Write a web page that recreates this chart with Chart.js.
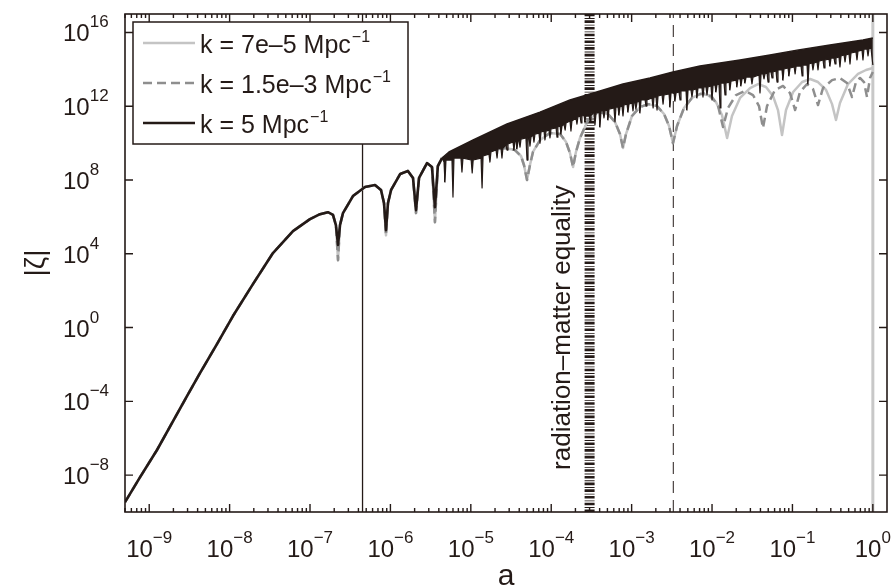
<!DOCTYPE html>
<html>
<head>
<meta charset="utf-8">
<title>|ζ| versus a</title>
<script src="https://cdn.jsdelivr.net/npm/chart.js@4.4.1/dist/chart.umd.min.js"></script>
<style>
  html, body { margin: 0; padding: 0; background: #fff; }
  canvas { display: block; }
</style>
</head>
<body>
<canvas id="zetaChart" width="896" height="588"></canvas>
<script>
// |zeta| against scale factor a, three comoving wavenumbers, log-log axes
const A_MIN = 5e-10, A_MAX = 1.5;
const Z_MIN = 1e-10, Z_MAX = 1e17;

const xDecades = [-9, -8, -7, -6, -5, -4, -3, -2, -1, 0];
const yDecades = [-8, -4, 0, 4, 8, 12, 16];

const seriesLabels = ['k = 7e\u20135 Mpc', 'k = 1.5e\u20133 Mpc', 'k = 5 Mpc'];
const unitExp = '\u22121';

// horizon crossing of each mode (same order as seriesLabels) and equality
const horizonA = [1.0, 3.3e-3, 4.5e-7];
const aEquality = 3.0e-4;
const equalityText = 'radiation\u2013matter equality';

// [a, |zeta|]
const earlyBlack = [
  [5.0e-10, 3.4e-10], [7.7e-10, 7.8e-9], [1.25e-9, 2.3e-7], [1.98e-9, 8.5e-6],
  [2.95e-9, 1.9e-4], [4.28e-9, 3.4e-3], [6.96e-9, 0.127], [1.10e-8, 4.2],
  [1.95e-8, 228], [3.46e-8, 1.1e4], [6.14e-8, 1.7e5], [1.0e-7, 7.6e5],
  [1.33e-7, 1.4e6], [1.67e-7, 1.8e6], [1.93e-7, 1.3e6], [2.10e-7, 3.6e5],
  [2.23e-7, 3.0e4], [2.36e-7, 3.6e5], [2.57e-7, 1.6e6], [3.42e-7, 1.35e7],
  [4.83e-7, 4.2e7], [6.43e-7, 5.3e7], [7.63e-7, 2.9e7], [8.32e-7, 5.7e6],
  [8.81e-7, 1.9e5], [9.33e-7, 5.7e6], [1.02e-6, 2.9e7], [1.32e-6, 2.1e8],
  [1.65e-6, 3.1e8], [1.91e-6, 1.3e8], [2.08e-6, 2.3e6], [2.27e-6, 1.3e8],
  [2.85e-6, 8.3e8], [3.29e-6, 5.0e8], [3.58e-6, 3.4e6], [3.89e-6, 5.7e8],
  [4.38e-6, 1.55e9]
];

const earlyGray = [
  [5.0e-10, 3.4e-10], [7.7e-10, 7.8e-9], [1.25e-9, 2.3e-7], [1.98e-9, 8.5e-6],
  [2.95e-9, 1.9e-4], [4.28e-9, 3.4e-3], [6.96e-9, 0.127], [1.10e-8, 4.2],
  [1.95e-8, 228], [3.46e-8, 1.1e4], [6.14e-8, 1.7e5], [1.0e-7, 7.6e5],
  [1.33e-7, 1.4e6], [1.67e-7, 1.8e6], [1.93e-7, 1.3e6], [2.10e-7, 3.6e5],
  [2.23e-7, 4.5e3], [2.36e-7, 3.6e5], [2.57e-7, 1.6e6], [3.42e-7, 1.35e7],
  [4.83e-7, 4.2e7], [6.43e-7, 5.3e7], [7.63e-7, 2.9e7], [8.32e-7, 5.7e6],
  [8.81e-7, 1.0e5], [9.33e-7, 5.7e6], [1.02e-6, 2.9e7], [1.32e-6, 2.1e8],
  [1.65e-6, 3.1e8], [1.91e-6, 1.3e8], [2.08e-6, 1.6e6], [2.27e-6, 1.3e8],
  [2.85e-6, 8.3e8], [3.29e-6, 5.0e8], [3.58e-6, 5.2e5], [3.89e-6, 5.7e8],
  [4.38e-6, 1.55e9]
];

const grayMid = [
  [5.35e-6, 1.76e9], [9.77e-6, 2.9e9], [1.73e-5, 4.2e9], [2.66e-5, 5.4e9],
  [3.54e-5, 4.2e9], [4.21e-5, 2.0e9], [4.58e-5, 6.5e8], [5.00e-5, 1.0e8],
  [5.44e-5, 6.5e8], [5.93e-5, 3.3e9], [7.25e-5, 1.47e10], [9.65e-5, 3.5e10],
  [1.29e-4, 3.1e10], [1.53e-4, 1.14e10], [1.71e-4, 2.9e9], [1.87e-4, 5.05e8],
  [2.03e-4, 3.3e9], [2.28e-4, 1.9e10], [2.87e-4, 1.8e11], [3.82e-4, 4.8e11],
  [5.08e-4, 3.8e11], [6.21e-4, 1.4e11], [7.16e-4, 3.1e10], [7.81e-4, 5.4e9],
  [8.51e-4, 3.1e10], [1.01e-3, 2.95e11], [1.27e-3, 9.0e11], [1.60e-3, 1.3e12],
  [2.07e-3, 1.02e12], [2.53e-3, 3.8e11], [2.92e-3, 8.4e10], [3.27e-3, 1.0e10],
  [3.67e-3, 8.4e10], [4.48e-3, 8.0e11], [5.63e-3, 2.8e12], [7.08e-3, 4.6e12]
];

const graySolidTail = [
  [8.91e-3, 4.05e12], [1.12e-2, 1.7e12], [1.33e-2, 3.3e11], [1.54e-2, 1.9e10],
  [1.77e-2, 2.95e11], [2.23e-2, 2.8e12], [2.97e-2, 9.7e12], [3.73e-2, 1.6e13],
  [4.69e-2, 1.1e13], [5.73e-2, 3.6e12], [6.61e-2, 6.2e11], [7.42e-2, 2.75e10],
  [8.32e-2, 6.2e11], [0.102, 5.9e12], [0.132, 2.05e13], [0.166, 3.0e13],
  [0.208, 2.05e13], [0.262, 7.6e12], [0.311, 1.3e12], [0.348, 1.8e11],
  [0.390, 1.5e12], [0.491, 1.6e13], [0.654, 5.6e13], [0.822, 9.2e13],
  [1.0, 1.18e14]
];

const grayDashedTail = [
  [8.41e-3, 5.2e12], [1.00e-2, 3.15e12], [1.19e-2, 1.02e12], [1.37e-2, 7.4e10],
  [1.58e-2, 8.0e11], [1.99e-2, 4.05e12], [2.57e-2, 6.7e12], [3.23e-2, 4.05e12],
  [3.84e-2, 1.02e12], [4.30e-2, 6.6e10], [4.83e-2, 1.02e12], [6.07e-2, 7.6e12],
  [7.63e-2, 1.25e13], [9.33e-2, 5.2e12], [0.108, 6.2e11], [0.124, 5.9e12],
  [0.152, 1.6e13], [0.180, 8.6e12], [0.208, 1.16e12], [0.240, 9.7e12],
  [0.311, 2.6e13], [0.390, 3.4e13], [0.477, 1.8e13], [0.551, 3.15e12],
  [0.617, 2.05e13], [0.692, 3.4e13], [0.776, 2.05e13], [0.846, 3.15e12],
  [0.922, 3.4e13], [1.0, 7.2e13]
];

// k = 5 Mpc^-1 after the first few oscillations: envelope of the maxima...
const bandTop = [
  [4.38e-6, 1.55e9], [5.35e-6, 3.3e9], [1.07e-5, 1.47e10], [2.82e-5, 1.08e11],
  [7.25e-5, 4.8e11], [1.71e-4, 2.2e12], [4.04e-4, 6.7e12], [7.81e-4, 1.6e13],
  [1.69e-3, 3.4e13], [3.27e-3, 7.2e13], [7.08e-3, 1.5e14], [2.23e-2, 3.2e14],
  [5.26e-2, 6.0e14], [0.114, 1.1e15], [0.293, 2.1e15], [0.754, 3.9e15],
  [1.0, 5.0e15]
];

// ...and the lower edge with the downward spikes of the zeros
const bandBottom = [
  [4.38e-6, 1.55e9],
  [4.64e-6, 9.4e8], [4.77e-6, 7.7e7], [4.91e-6, 1.21e9],
  [5.83e-6, 1.21e9], [6.00e-6, 1.19e7], [6.17e-6, 1.55e9],
  [7.54e-6, 1.55e9], [7.76e-6, 2.7e8], [7.99e-6, 1.55e9],
  [1.01e-5, 1.21e9], [1.04e-5, 2.4e8], [1.07e-5, 1.21e9],
  [1.34e-5, 1.55e9], [1.38e-5, 3.7e7], [1.42e-5, 2.0e9],
  [1.68e-5, 2.55e9], [1.73e-5, 9.4e8], [1.78e-5, 3.3e9],
  [2.06e-5, 4.2e9], [2.12e-5, 1.55e9], [2.18e-5, 4.8e9],
  [2.37e-5, 5.4e9], [2.44e-5, 1.55e9], [2.51e-5, 5.4e9],
  [2.74e-5, 7.9e9], [2.82e-5, 4.2e9], [2.90e-5, 8.9e9],
  [3.35e-5, 1.14e10], [3.44e-5, 4.2e9], [3.54e-5, 1.3e10],
  [3.65e-5, 1.3e10], [3.75e-5, 4.8e9], [3.86e-5, 1.3e10],
  [3.97e-5, 1.47e10], [4.09e-5, 6.1e9], [4.21e-5, 1.66e10],
  [4.85e-5, 1.9e10], [5.00e-5, 1.21e9], [5.14e-5, 2.1e10],
  [5.29e-5, 2.1e10], [5.44e-5, 6.9e9], [5.60e-5, 2.1e10],
  [5.93e-5, 2.75e10], [6.10e-5, 1.14e10], [6.28e-5, 3.1e10],
  [7.04e-5, 3.5e10], [7.25e-5, 1.0e10], [7.46e-5, 4.0e10],
  [8.13e-5, 4.5e10], [8.36e-5, 1.47e10], [8.61e-5, 4.5e10],
  [9.38e-5, 5.1e10], [9.65e-5, 1.9e10], [9.93e-5, 5.8e10],
  [1.15e-4, 6.6e10], [1.18e-4, 2.1e10], [1.21e-4, 7.4e10],
  [1.29e-4, 8.4e10], [1.32e-4, 3.1e10], [1.36e-4, 8.4e10],
  [1.44e-4, 1.08e11], [1.49e-4, 5.1e10], [1.53e-4, 1.23e11],
  [1.71e-4, 1.57e11], [1.76e-4, 4.5e10], [1.81e-4, 1.57e11],
  [2.03e-4, 2.3e11], [2.09e-4, 1.08e11], [2.15e-4, 2.6e11],
  [2.28e-4, 2.95e11], [2.35e-4, 1.23e11], [2.41e-4, 2.95e11],
  [2.56e-4, 3.3e11], [2.63e-4, 1.4e11], [2.71e-4, 3.8e11],
  [2.95e-4, 3.8e11], [3.04e-4, 1.57e11], [3.12e-4, 3.8e11],
  [3.40e-4, 4.3e11], [3.50e-4, 9.6e10], [3.61e-4, 4.3e11],
  [3.93e-4, 4.8e11], [4.04e-4, 7.4e10], [4.16e-4, 5.5e11],
  [4.40e-4, 5.5e11], [4.53e-4, 2.3e11], [4.66e-4, 5.5e11],
  [4.94e-4, 6.2e11], [5.08e-4, 1.8e11], [5.23e-4, 7.0e11],
  [6.03e-4, 8.0e11], [6.21e-4, 1.4e11], [6.39e-4, 9.0e11],
  [6.77e-4, 9.0e11], [6.96e-4, 3.3e11], [7.16e-4, 9.0e11],
  [7.59e-4, 1.02e12], [7.81e-4, 2.95e11], [8.03e-4, 1.16e12],
  [8.76e-4, 1.3e12], [9.01e-4, 4.8e11], [9.27e-4, 1.3e12],
  [1.01e-3, 1.5e12], [1.04e-3, 5.5e11], [1.07e-3, 1.7e12],
  [1.10e-3, 1.7e12], [1.13e-3, 7.0e11], [1.17e-3, 1.7e12],
  [1.24e-3, 1.9e12], [1.27e-3, 4.3e11], [1.31e-3, 2.2e12],
  [1.47e-3, 2.2e12], [1.51e-3, 1.02e12], [1.55e-3, 2.2e12],
  [1.79e-3, 2.8e12], [1.85e-3, 8.0e11], [1.90e-3, 3.15e12],
  [2.01e-3, 3.15e12], [2.07e-3, 6.2e11], [2.13e-3, 3.6e12],
  [2.39e-3, 4.05e12], [2.46e-3, 1.3e12], [2.53e-3, 4.05e12],
  [2.92e-3, 4.6e12], [3.00e-3, 9.0e11], [3.09e-3, 5.2e12],
  [3.37e-3, 5.2e12], [3.46e-3, 1.9e12], [3.57e-3, 5.2e12],
  [3.88e-3, 5.9e12], [4.00e-3, 2.2e12], [4.11e-3, 6.7e12],
  [4.75e-3, 6.7e12], [4.88e-3, 6.2e11], [5.03e-3, 7.6e12],
  [5.47e-3, 7.6e12], [5.63e-3, 3.15e12], [5.80e-3, 7.6e12],
  [6.32e-3, 8.6e12], [6.50e-3, 2.8e12], [6.69e-3, 9.7e12],
  [7.50e-3, 9.7e12], [7.72e-3, 3.15e12], [7.94e-3, 1.1e13],
  [8.41e-3, 1.1e13], [8.66e-3, 4.05e12], [8.91e-3, 1.1e13],
  [9.71e-3, 1.25e13], [1.00e-2, 2.2e12], [1.03e-2, 1.4e13],
  [1.09e-2, 1.4e13], [1.12e-2, 5.9e12], [1.15e-2, 1.4e13],
  [1.22e-2, 1.6e13], [1.26e-2, 8.0e11], [1.29e-2, 1.8e13],
  [1.41e-2, 1.8e13], [1.45e-2, 4.05e12], [1.49e-2, 1.8e13],
  [1.63e-2, 2.05e13], [1.67e-2, 7.6e12], [1.72e-2, 2.3e13],
  [1.99e-2, 2.6e13], [2.04e-2, 1.1e13], [2.10e-2, 3.0e13],
  [2.23e-2, 3.0e13], [2.29e-2, 1.25e13], [2.36e-2, 3.0e13],
  [2.50e-2, 3.4e13], [2.57e-2, 1.8e13], [2.65e-2, 3.8e13],
  [3.05e-2, 3.8e13], [3.14e-2, 1.6e13], [3.23e-2, 3.8e13],
  [3.84e-2, 4.9e13], [3.95e-2, 5.2e12], [4.07e-2, 5.6e13],
  [4.30e-2, 5.6e13], [4.43e-2, 3.0e13], [4.56e-2, 5.6e13],
  [4.83e-2, 6.3e13], [4.97e-2, 2.05e13], [5.11e-2, 7.2e13],
  [5.41e-2, 7.2e13], [5.57e-2, 3.4e13], [5.73e-2, 7.2e13],
  [6.25e-2, 8.1e13], [6.43e-2, 2.05e13], [6.61e-2, 9.2e13],
  [7.42e-2, 9.2e13], [7.63e-2, 2.6e13], [7.85e-2, 1.04e14],
  [8.81e-2, 1.18e14], [9.06e-2, 4.35e13], [9.33e-2, 1.18e14],
  [0.105, 1.34e14], [0.108, 5.6e13], [0.111, 1.5e14],
  [0.128, 1.5e14], [0.132, 4.35e13], [0.135, 1.71e14],
  [0.152, 1.71e14], [0.156, 1.6e13], [0.161, 1.94e14],
  [0.175, 2.2e14], [0.180, 9.2e13], [0.186, 2.2e14],
  [0.202, 2.5e14], [0.208, 9.2e13], [0.214, 2.8e14],
  [0.240, 3.2e14], [0.247, 1.18e14], [0.254, 3.2e14],
  [0.285, 3.6e14], [0.293, 1.5e14], [0.302, 4.1e14],
  [0.329, 4.1e14], [0.339, 1.94e14], [0.348, 4.1e14],
  [0.379, 4.65e14], [0.390, 1.34e14], [0.402, 5.3e14],
  [0.438, 6.0e14], [0.451, 2.5e14], [0.464, 6.0e14],
  [0.505, 6.8e14], [0.520, 1.94e14], [0.535, 7.7e14],
  [0.617, 8.7e14], [0.635, 3.2e14], [0.654, 9.8e14],
  [0.733, 1.1e15], [0.754, 3.2e14], [0.776, 1.26e15],
  [0.846, 1.26e15], [0.871, 5.3e14], [0.896, 1.3e15],
  [0.949, 1.4e15], [1.0, 1.71e14]
];

const INK = '#241a17';
const LIGHT = '#c4c4c4';
const MID = '#8e8e8e';
const FONT = '"Liberation Sans", Arial, Helvetica, sans-serif';

const pts = pairs => pairs.map(([a, z]) => ({ x: a, y: z }));

function curve(label, data, color, width, dash, order) {
  return {
    label, data: pts(data), borderColor: color, backgroundColor: color,
    borderWidth: width, borderDash: dash, borderJoinStyle: 'round',
    showLine: true, pointRadius: 0, tension: 0, fill: false, order, clip: 0
  };
}

function vline(a, color, width, dash) {
  return {
    label: '', data: [{ x: a, y: Z_MIN }, { x: a, y: Z_MAX }],
    borderColor: color, borderWidth: width, borderDash: dash,
    showLine: true, pointRadius: 0, fill: false, order: 5, clip: 0
  };
}

const datasets = [
  vline(horizonA[2], INK, 1.3, []),
  vline(aEquality, INK, 10, [2.6, 1.4, 0.9, 1.8]),
  vline(horizonA[1], '#3a3230', 1.1, [12, 7]),
  vline(horizonA[0], '#c8c8c8', 3, []),
  curve(seriesLabels[0], earlyGray.concat(grayMid, graySolidTail), LIGHT, 2.5, [], 3),
  curve(seriesLabels[1], earlyGray.concat(grayMid, grayDashedTail), MID, 2.5, [9, 5], 2),
  curve(seriesLabels[2], earlyBlack, INK, 2.6, [], 1),
  Object.assign(curve('', bandTop, INK, 1.5, [], 0), { fill: '+1' }),
  curve('', bandBottom, INK, 1.2, [], 0)
];

function powerLabel(ctx, exp, x, y, centered) {
  const sup = exp < 0 ? '\u2212' + (-exp) : String(exp);
  ctx.font = '24px ' + FONT;
  const wb = ctx.measureText('10').width;
  ctx.font = '17px ' + FONT;
  const ws = ctx.measureText(sup).width;
  const x0 = centered ? x - (wb + ws) / 2 : x;
  ctx.font = '24px ' + FONT;
  ctx.fillText('10', x0, y);
  ctx.font = '17px ' + FONT;
  ctx.fillText(sup, x0 + wb, y - 14);
}

// box, inward ticks on all four sides, labels, legend, annotation
const axesFrame = {
  id: 'axesFrame',
  afterDraw(chart) {
    const { ctx, chartArea: ca, scales: { x, y } } = chart;
    ctx.save();
    ctx.strokeStyle = INK;
    ctx.fillStyle = INK;
    ctx.lineWidth = 1.4;
    ctx.setLineDash([]);

    ctx.beginPath();
    for (let e = -10; e <= 0; e++) {
      for (let m = 1; m <= 9; m++) {
        const v = m * Math.pow(10, e);
        if (v < A_MIN || v > A_MAX) continue;
        const px = x.getPixelForValue(v);
        const len = m === 1 ? 8 : 4;
        ctx.moveTo(px, ca.bottom); ctx.lineTo(px, ca.bottom - len);
        ctx.moveTo(px, ca.top); ctx.lineTo(px, ca.top + len);
      }
    }
    yDecades.forEach(e => {
      const py = y.getPixelForValue(Math.pow(10, e));
      ctx.moveTo(ca.left, py); ctx.lineTo(ca.left + 8, py);
      ctx.moveTo(ca.right, py); ctx.lineTo(ca.right - 8, py);
    });
    ctx.stroke();
    ctx.lineWidth = 1.6;
    ctx.strokeRect(ca.left, ca.top, ca.right - ca.left, ca.bottom - ca.top);

    ctx.textAlign = 'left';
    ctx.textBaseline = 'alphabetic';
    xDecades.forEach(e => powerLabel(ctx, e, x.getPixelForValue(Math.pow(10, e)), ca.bottom + 45, true));
    yDecades.forEach(e => powerLabel(ctx, e, 63, y.getPixelForValue(Math.pow(10, e)) + 9, false));

    // axis titles
    ctx.font = '30px ' + FONT;
    ctx.textAlign = 'center';
    ctx.fillText('a', (ca.left + ca.right) / 2, 585);
    ctx.save();
    ctx.translate(44, (ca.top + ca.bottom) / 2);
    ctx.rotate(-Math.PI / 2);
    ctx.font = '28px ' + FONT;
    ctx.fillText('|\u03b6|', 0, 0);
    ctx.restore();

    // label along the equality line
    ctx.save();
    ctx.translate(x.getPixelForValue(aEquality) - 20, y.getPixelForValue(1));
    ctx.rotate(-Math.PI / 2);
    ctx.font = '26px ' + FONT;
    ctx.fillText(equalityText, 0, 0);
    ctx.restore();

    // legend
    const bx = ca.left + 8, by = ca.top + 8, bw = 275, bh = 122;
    ctx.fillStyle = '#fff';
    ctx.fillRect(bx, by, bw, bh);
    ctx.lineWidth = 1.5;
    ctx.strokeStyle = INK;
    ctx.strokeRect(bx, by, bw, bh);
    const styles = chart.data.datasets;
    seriesLabels.forEach((lab, i) => {
      const ds = styles.find(d => d.label === lab);
      const cy = by + 21 + i * 40;
      ctx.beginPath();
      ctx.strokeStyle = ds.borderColor;
      ctx.lineWidth = ds.borderWidth;
      ctx.setLineDash(ds.borderDash || []);
      ctx.moveTo(bx + 10, cy);
      ctx.lineTo(bx + 62, cy);
      ctx.stroke();
      ctx.setLineDash([]);
      ctx.fillStyle = INK;
      ctx.textAlign = 'left';
      ctx.font = '25px ' + FONT;
      ctx.fillText(lab, bx + 67, cy + 10);
      const w = ctx.measureText(lab).width;
      ctx.font = '16px ' + FONT;
      ctx.fillText(unitExp, bx + 68 + w, cy - 1);
    });

    ctx.restore();
  }
};

new Chart(document.getElementById('zetaChart'), {
  type: 'scatter',
  data: { datasets },
  options: {
    responsive: false,
    animation: false,
    devicePixelRatio: 1,
    events: [],
    layout: { padding: { left: 125, right: 9, top: 14, bottom: 76 } },
    scales: {
      x: { type: 'logarithmic', min: A_MIN, max: A_MAX, display: false },
      y: { type: 'logarithmic', min: Z_MIN, max: Z_MAX, display: false }
    },
    plugins: { legend: { display: false }, tooltip: { enabled: false } }
  },
  plugins: [axesFrame]
});
</script>
</body>
</html>
